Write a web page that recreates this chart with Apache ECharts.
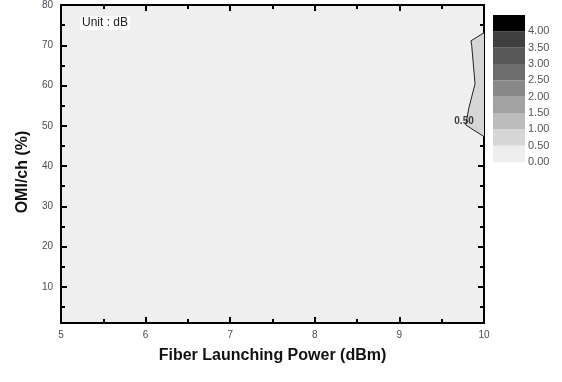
<!DOCTYPE html>
<html>
<head>
<meta charset="utf-8">
<script src="https://cdn.jsdelivr.net/npm/echarts@6/dist/echarts.min.js"></script>
<style>html,body{margin:0;padding:0;background:#fff}#c{width:562px;height:382px}</style>
</head>
<body>
<div id="c"></div>
<script>
// ---- data ----
var xTicks = [5, 6, 7, 8, 9, 10];
var yMajorTicks = [10, 20, 30, 40, 50, 60, 70, 80];
var yMinorTicks = [5, 15, 25, 35, 45, 55, 65, 75];
// 0.50 dB contour (x = fiber launching power dBm, y = OMI/ch %)
var contourX = [10.0, 9.846, 9.855, 9.894, 9.823, 9.784, 10.0];
var contourY = [73.1, 71.1, 69.9, 60.4, 54.6, 50.2, 47.3];
var contourLabel = '0.50';
var contourLabelPos = [9.764, 51.1];
// colour scale levels
var levelLows = [0, 0.5, 1.0, 1.5, 2.0, 2.5, 3.0, 3.5, 4.0];
var levelHighs = [0.5, 1.0, 1.5, 2.0, 2.5, 3.0, 3.5, 4.0, 4.5];
var levelColors = ['#eeeeee', '#d6d6d6', '#bcbcbc', '#a2a2a2', '#888888', '#6e6e6e', '#575757', '#3f3f3f', '#000000'];
var levelLabels = ['0.00', '0.50', '1.00', '1.50', '2.00', '2.50', '3.00', '3.50', '4.00'];

var FONT = 'Arial, "Liberation Sans", sans-serif';
var LBL = '#4a4a55';
var lineS = {color: '#000', width: 2};

var chart = echarts.init(document.getElementById('c'), null, {renderer: 'canvas'});

function yAx(pos, major, showLabel, extra) {
  var o = {
    type: 'value', gridIndex: 0, position: pos, min: 1, max: 80, offset: 0,
    axisLine: {show: true, lineStyle: lineS},
    axisTick: {show: true, inside: true, length: major ? 6 : 4, lineStyle: lineS,
               customValues: major ? yMajorTicks : yMinorTicks},
    axisLabel: {show: showLabel, customValues: yMajorTicks, color: LBL, fontSize: 10,
                fontFamily: FONT, margin: 8},
    splitLine: {show: false}
  };
  if (extra) for (var k in extra) o[k] = extra[k];
  return o;
}
function xAx(pos, showLabel, extra) {
  var o = {
    type: 'value', gridIndex: 0, position: pos, min: xTicks[0], max: xTicks[xTicks.length - 1], interval: 1,
    axisLine: {show: true, lineStyle: lineS},
    axisTick: {show: true, inside: true, length: 6, lineStyle: lineS},
    minorTick: {show: true, splitNumber: 2, length: 4, lineStyle: lineS},
    axisLabel: {show: showLabel, color: LBL, fontSize: 10, fontFamily: FONT, margin: 7},
    splitLine: {show: false}
  };
  if (extra) for (var k in extra) o[k] = extra[k];
  return o;
}

var option = {
  animation: false,
  backgroundColor: '#ffffff',
  title: {
    text: 'Unit : dB', left: 80, top: 16,
    backgroundColor: '#ffffff', padding: [1, 2, 1, 2],
    textStyle: {fontSize: 12, fontWeight: 'normal', color: '#222', fontFamily: FONT}
  },
  grid: [
    {left: 61, right: 78, top: 2, bottom: 59, show: true, backgroundColor: '#efefef', borderWidth: 0},
    {left: 493, top: 15, width: 32, height: 147}
  ],
  xAxis: [
    xAx('bottom', true, {
      name: 'Fiber Launching Power (dBm)', nameLocation: 'middle', nameGap: 25,
      nameTextStyle: {fontSize: 16, fontWeight: 'bold', color: '#111', fontFamily: FONT}
    }),
    xAx('top', false),
    {type: 'value', gridIndex: 1, min: 0, max: 1, show: false}
  ],
  yAxis: [
    yAx('left', true, true, {
      name: 'OMI/ch (%)', nameLocation: 'middle', nameGap: 28,
      nameTextStyle: {fontSize: 16, fontWeight: 'bold', color: '#111', fontFamily: FONT, padding: [0, 16, 0, 0]}
    }),
    yAx('left', false, false),
    yAx('right', true, false),
    yAx('right', false, false),
    {
      type: 'value', gridIndex: 1, position: 'right', min: 0, max: 4.5, interval: 0.5,
      axisLine: {show: false}, axisTick: {show: false}, splitLine: {show: false},
      axisLabel: {
        show: true, margin: 3, color: '#555', fontSize: 11, fontFamily: FONT,
        formatter: function (v) {
          var i = levelLows.indexOf(Math.round(v * 10) / 10);
          return i >= 0 ? levelLabels[i] : '';
        }
      }
    }
  ],
  series: [
    {
      type: 'custom', xAxisIndex: 0, yAxisIndex: 0, silent: true,
      data: contourX.map(function (x, i) { return [x, contourY[i]]; }),
      renderItem: function (params, api) {
        if (params.dataIndex !== 0) return null;
        var pts = contourX.map(function (x, i) { return api.coord([x, contourY[i]]); });
        return {type: 'polygon', shape: {points: pts}, style: {fill: levelColors[1], stroke: null}};
      },
      z: 1
    },
    {
      type: 'line', xAxisIndex: 0, yAxisIndex: 0, silent: true,
      data: contourX.map(function (x, i) { return [x, contourY[i]]; }),
      symbol: 'none', lineStyle: {color: '#222', width: 1}, z: 2
    },
    {
      type: 'scatter', xAxisIndex: 0, yAxisIndex: 0, silent: true,
      data: [contourLabelPos], symbolSize: 0,
      label: {show: true, position: 'inside', formatter: contourLabel, fontSize: 10, fontWeight: 'bold',
              color: '#111', fontFamily: FONT}, z: 3
    },
    {
      type: 'custom', xAxisIndex: 2, yAxisIndex: 4, silent: true,
      data: levelLows.map(function (lo, i) { return [lo, levelHighs[i]]; }),
      renderItem: function (params, api) {
        var lo = api.value(0), hi = api.value(1);
        var p0 = api.coord([0, lo]), p1 = api.coord([1, hi]);
        return {type: 'rect', shape: {x: p0[0], y: p1[1], width: p1[0] - p0[0], height: p0[1] - p1[1]},
                style: {fill: levelColors[params.dataIndex]}};
      }
    }
  ]
};
chart.setOption(option);
</script>
</body>
</html>
